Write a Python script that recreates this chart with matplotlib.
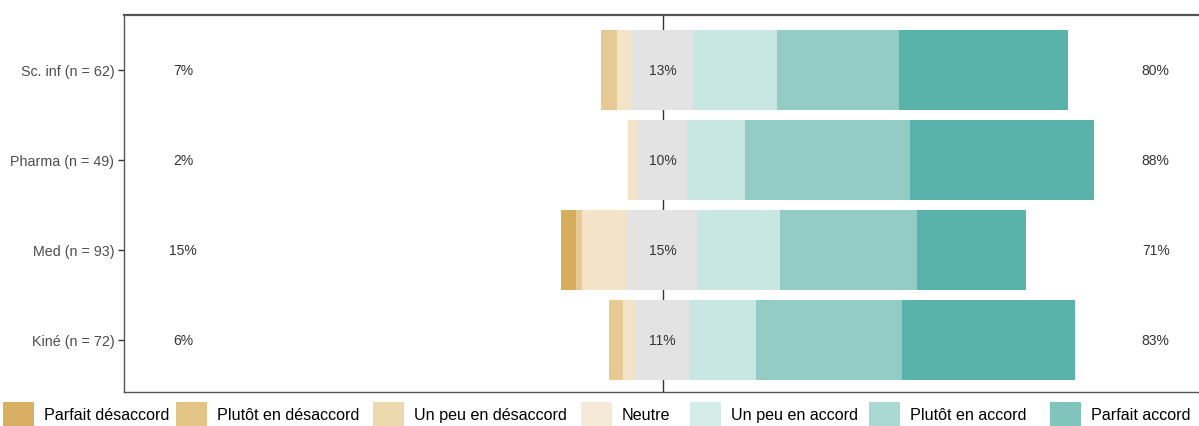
import numpy as np
import matplotlib
matplotlib.use("Agg")
import matplotlib.pyplot as plt
from matplotlib.patches import Patch

plt.rcParams["font.family"] = ["Liberation Sans", "DejaVu Sans"]

groups = ["Kiné (n = 72)", "Med (n = 93)", "Pharma (n = 49)", "Sc. inf (n = 62)"]
levels = ["Parfait désaccord", "Plutôt en désaccord", "Un peu en désaccord", "Neutre",
          "Un peu en accord", "Plutôt en accord", "Parfait accord"]

# percentages per level, rows in the order of groups
parfait_des = [0.0, 3.3, 0.0, 0.0]
plutot_des = [2.9, 1.2, 0.0, 3.3]
unpeu_des = [2.9, 10.0, 2.1, 3.3]
neutre = [11.3, 14.6, 10.4, 13.1]
unpeu_acc = [14.3, 17.9, 12.4, 18.0]
plutot_acc = [31.4, 29.3, 35.5, 26.2]
parfait_acc = [37.2, 23.5, 39.5, 36.2]

low_lab = ["6%", "15%", "2%", "7%"]
mid_lab = ["11%", "15%", "10%", "13%"]
high_lab = ["83%", "71%", "88%", "80%"]

bar_cols = ["#d6ad5c", "#e5ca96", "#f2e3c9", "#e3e3e3", "#c8e6e2", "#92ccc5", "#5ab3aa"]
leg_cols = ["#d9b063", "#e2c487", "#edd9ae", "#f4ead7", "#d4ece8", "#aad9d3", "#80c5bc"]
leg_x = [3, 176, 373, 581, 690, 869, 1050]  # left edge of each legend key, px

fig = plt.figure(figsize=(11.99, 4.27), dpi=100)
ax = fig.add_axes([124 / 1199, 34 / 427, 1077 / 1199, 377 / 427])

y = np.arange(len(groups))
h = 0.89
ax.axvline(0, color="#333333", lw=1, zorder=0)

neg = [parfait_des, plutot_des, unpeu_des]
pos = [unpeu_acc, plutot_acc, parfait_acc]
half = np.array(neutre) / 2

# neutral centred on zero
ax.barh(y, neutre, left=-half, height=h, color=bar_cols[3], zorder=2)
# disagreement to the left
start = -half.copy()
for i in [2, 1, 0]:
    v = np.array(neg[i])
    ax.barh(y, v, left=start - v, height=h, color=bar_cols[i], zorder=2)
    start = start - v
# agreement to the right
start = half.copy()
for i, v in enumerate(pos):
    v = np.array(v)
    ax.barh(y, v, left=start, height=h, color=bar_cols[4 + i], zorder=2)
    start = start + v

for yi, a, b, c in zip(y, low_lab, mid_lab, high_lab):
    ax.text(-102.8, yi, a, ha="center", va="center", fontsize=10, color="#333333")
    ax.text(0, yi, b, ha="center", va="center", fontsize=10, color="#333333", zorder=3)
    ax.text(105.8, yi, c, ha="center", va="center", fontsize=10, color="#333333")

ax.set_xlim(-115.5, 115.5)
ax.set_ylim(-0.578, 3.611)
ax.set_yticks(y)
ax.set_yticklabels(groups, fontsize=10.3, color="#4d4d4d")
ax.set_xticks([])
ax.tick_params(axis="y", length=4, width=1, color="#333333", pad=3)
for s in ["left", "bottom", "top", "right"]:
    ax.spines[s].set_color("#555555")
    ax.spines[s].set_linewidth(1.0)
ax.spines["top"].set_linewidth(1.6)

# one legend key per entry, placed like the ggplot legend
for lx, lab, col in zip(leg_x, levels, leg_cols):
    fig.legend([Patch(facecolor=col, edgecolor="none")], [lab], loc="upper left",
               bbox_to_anchor=(lx / 1199, 24 / 427), bbox_transform=fig.transFigure,
               frameon=False, fontsize=11.6, handlelength=1.9, handleheight=1.95,
               handletextpad=0.62, borderaxespad=0, borderpad=0)

fig.savefig("out.png", dpi=100)
